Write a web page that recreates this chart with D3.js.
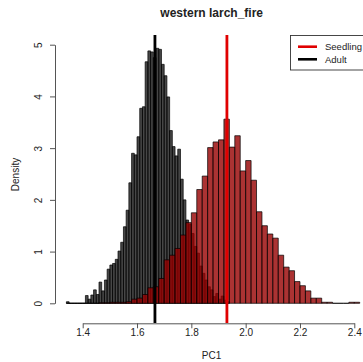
<!DOCTYPE html>
<html>
<head>
<meta charset="utf-8">
<script src="https://cdn.jsdelivr.net/npm/d3@7/dist/d3.min.js"></script>
<style>
  html, body { margin: 0; padding: 0; background: #fff; overflow: hidden; }
  svg { display: block; }
  text { font-family: "Liberation Sans", Arial, sans-serif; fill: #222; }
</style>
</head>
<body>
<svg id="chart" width="363" height="362"></svg>
<script>
// Histogram of PC1 for adults (bin width 0.01, first break 1.34)
const adultStart = 1.34;
const adultStep = 0.01;
const adultDensity = [
  0.03, 0, 0, 0, 0, 0, 0, 0.15, 0.08, 0.16,
  0.26, 0.17, 0.41, 0.24, 0.45, 0.66, 0.74, 0.77, 0.85, 1.01,
  1.18, 1.48, 1.80, 2.33, 2.90, 2.87, 3.22, 3.77, 3.80, 4.67,
  4.88, 4.86, 4.75, 4.93, 4.91, 4.62, 4.40, 3.99, 3.34, 3.03,
  2.85, 2.98, 2.40, 2.00, 1.61, 1.53, 1.35, 1.10, 0.97, 0.72,
  0.58, 0.45, 0.32, 0.26, 0.13, 0.19, 0.08, 0.14, 0.06, 0.03
];

// Histogram of PC1 for seedlings (bin width 0.02, first break 1.34)
const seedStart = 1.34;
const seedStep = 0.02;
const seedDensity = [
  0, 0, 0, 0, 0, 0, 0.01, 0.01, 0.02, 0.02,
  0.02, 0.03, 0.08, 0.10, 0.17, 0.30, 0.32, 0.48, 0.84, 0.93,
  1.06, 1.32, 1.56, 1.75, 2.20, 2.46, 3.01, 3.12, 3.16, 3.56,
  3.02, 3.24, 2.56, 2.76, 2.38, 1.77, 1.50, 1.34, 1.26, 0.93,
  0.70, 0.63, 0.42, 0.34, 0.24, 0.10, 0.10, 0.02, 0.02, 0,
  0, 0, 0.02, 0.02
];

// Group means drawn as vertical reference lines
const adultMean = 1.666;
const seedMean = 1.931;

const xTicks = [1.4, 1.6, 1.8, 2.0, 2.2, 2.4];
const yTicks = [0, 1, 2, 3, 4, 5];
const legendLabels = ["Seedling", "Adult"];
const titleText = "western larch_fire";
const xLabel = "PC1";
const yLabel = "Density";

const svg = d3.select("#chart");

const x = d3.scaleLinear().domain([1.4, 2.4]).range([82.7, 354.3]);
const y = d3.scaleLinear().domain([0, 5]).range([303.3, 44.7]);

function bins(start, step, dens) {
  return dens.map((d, i) => ({ x0: start + i * step, x1: start + (i + 1) * step, d }));
}

function barPath(b) {
  const x0 = x(b.x0), x1 = x(b.x1), y0 = y(0), y1 = y(b.d);
  return `M${x0},${y0}V${y1}H${x1}V${y0}Z`;
}

// adult bars
svg.append("g")
  .selectAll("path")
  .data(bins(adultStart, adultStep, adultDensity))
  .join("path")
  .attr("d", barPath)
  .attr("fill", "rgba(0,0,0,0.72)")
  .attr("stroke", "#000")
  .attr("stroke-width", 0.7);

// seedling bars, semi-transparent over the adult ones
svg.append("g")
  .selectAll("path")
  .data(bins(seedStart, seedStep, seedDensity))
  .join("path")
  .attr("d", barPath)
  .attr("fill", "rgba(150,0,0,0.8)")
  .attr("stroke", "#000")
  .attr("stroke-width", 0.7);

// mean lines
svg.append("line")
  .attr("x1", x(adultMean)).attr("x2", x(adultMean))
  .attr("y1", 35).attr("y2", 323)
  .attr("stroke", "#000").attr("stroke-width", 2.8);
svg.append("line")
  .attr("x1", x(seedMean)).attr("x2", x(seedMean))
  .attr("y1", 35).attr("y2", 323)
  .attr("stroke", "#e00000").attr("stroke-width", 2.8);

// x axis
const gx = svg.append("g")
  .attr("transform", "translate(0,323.3)")
  .call(d3.axisBottom(x).tickValues(xTicks).tickSize(5).tickSizeOuter(0)
    .tickFormat(d3.format(".1f")));
gx.select(".domain").attr("stroke", "#555");
gx.selectAll(".tick line").attr("stroke", "#555");
gx.selectAll(".tick text")
  .attr("y", 13).attr("dy", 0)
  .style("font-size", "10px")
  .style("font-family", "Liberation Sans, Arial, sans-serif")
  .attr("fill", "#222");

// y axis with labels parallel to the axis
const gy = svg.append("g")
  .attr("transform", "translate(55,0)")
  .call(d3.axisLeft(y).tickValues(yTicks).tickSize(5).tickSizeOuter(0)
    .tickFormat(d3.format("d")));
gy.select(".domain").attr("stroke", "#555");
gy.selectAll(".tick line").attr("stroke", "#555");
gy.selectAll(".tick text")
  .attr("x", 0).attr("y", -13.5).attr("dy", 0)
  .attr("transform", "rotate(-90)")
  .attr("text-anchor", "middle")
  .style("font-size", "10px")
  .style("font-family", "Liberation Sans, Arial, sans-serif")
  .attr("fill", "#222");

// titles
svg.append("text")
  .attr("x", 211.7).attr("y", 17)
  .attr("text-anchor", "middle")
  .style("font-size", "12px").style("font-weight", "bold")
  .attr("fill", "#111")
  .text(titleText);
svg.append("text")
  .attr("x", 211.5).attr("y", 359)
  .attr("text-anchor", "middle")
  .style("font-size", "10px")
  .text(xLabel);
svg.append("text")
  .attr("transform", "translate(18.5,174.5) rotate(-90)")
  .attr("text-anchor", "middle")
  .style("font-size", "10px")
  .text(yLabel);

// legend
const lg = svg.append("g");
lg.append("rect")
  .attr("x", 290.5).attr("y", 35.5).attr("width", 90).attr("height", 34.5)
  .attr("fill", "#fff").attr("stroke", "#333").attr("stroke-width", 0.9);
const legendColors = ["#e00000", "#000"];
legendLabels.forEach((lab, i) => {
  const ly = 46.7 + i * 12.6;
  lg.append("line")
    .attr("x1", 298).attr("x2", 317).attr("y1", ly).attr("y2", ly)
    .attr("stroke", legendColors[i]).attr("stroke-width", 2.6);
  lg.append("text")
    .attr("x", 325).attr("y", ly + 3.4)
    .style("font-size", "9.5px")
    .text(lab);
});
</script>
</body>
</html>
